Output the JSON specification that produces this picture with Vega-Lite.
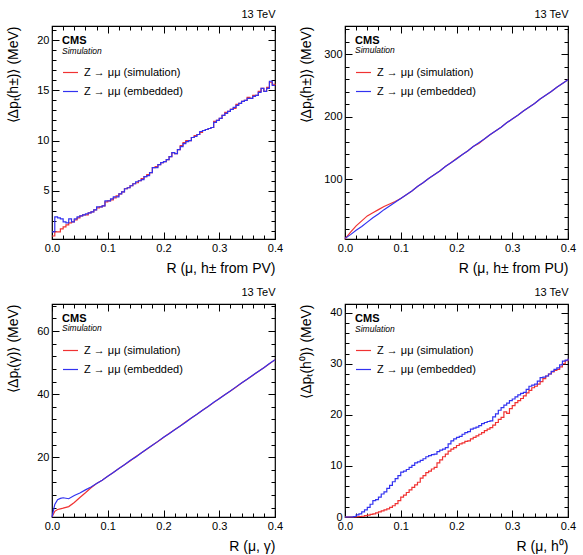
{
  "$schema": "https://vega.github.io/schema/vega-lite/v6.json",
  "padding": {"left": 5, "top": 7, "right": 5, "bottom": 4},
  "background": "white",
  "config": {
    "font": "Liberation Sans",
    "view": {"stroke": "black", "strokeWidth": 1.2},
    "axis": {"domain": false, "grid": false, "tickColor": "black", "tickWidth": 1, "labelColor": "black", "titleColor": "black", "labelFontSize": 11, "titleFontSize": 14, "titleFontWeight": "normal", "labelFont": "Liberation Sans", "titleFont": "Liberation Sans", "labelFlush": false, "labelOverlap": false},
    "legend": {"orient": "none", "legendX": 10, "legendY": 38, "title": null, "symbolType": "stroke", "symbolSize": 225, "symbolStrokeWidth": 1.2, "labelFontSize": 11, "labelOffset": 5, "rowPadding": 5, "padding": 0, "labelFont": "Liberation Sans", "labelColor": "black"},
    "text": {"font": "Liberation Sans", "color": "black", "align": "left", "baseline": "alphabetic"}
  },
  "datasets": {
    "p1": [
      {"x":0.000,"sim":0.5,"emb":0.9},{"x":0.005,"sim":0.9,"emb":2.4},{"x":0.010,"sim":0.9,"emb":2.3},{"x":0.015,"sim":1.2,"emb":2.2},
      {"x":0.020,"sim":1.4,"emb":1.9},{"x":0.025,"sim":1.6,"emb":1.8},{"x":0.030,"sim":1.8,"emb":2.2},{"x":0.035,"sim":1.9,"emb":1.9},
      {"x":0.040,"sim":2.1,"emb":2.2},{"x":0.045,"sim":2.3,"emb":2.4},{"x":0.050,"sim":2.5,"emb":2.5},{"x":0.055,"sim":2.6,"emb":2.6},
      {"x":0.060,"sim":2.6,"emb":2.7},{"x":0.065,"sim":2.8,"emb":2.8},{"x":0.070,"sim":2.9,"emb":2.9},{"x":0.075,"sim":3.1,"emb":3.1},
      {"x":0.080,"sim":3.3,"emb":3.4},{"x":0.085,"sim":3.4,"emb":3.4},{"x":0.090,"sim":3.5,"emb":3.5},{"x":0.095,"sim":3.9,"emb":4.0},
      {"x":0.100,"sim":4.0,"emb":4.0},{"x":0.105,"sim":4.1,"emb":4.2},{"x":0.110,"sim":4.3,"emb":4.4},{"x":0.115,"sim":4.5,"emb":4.4},
      {"x":0.120,"sim":4.7,"emb":4.7},{"x":0.125,"sim":4.9,"emb":4.9},{"x":0.130,"sim":5.2,"emb":5.2},{"x":0.135,"sim":5.3,"emb":5.3},
      {"x":0.140,"sim":5.5,"emb":5.5},{"x":0.145,"sim":5.7,"emb":5.7},{"x":0.150,"sim":5.8,"emb":5.9},{"x":0.155,"sim":6.0,"emb":6.0},
      {"x":0.160,"sim":6.2,"emb":6.1},{"x":0.165,"sim":6.4,"emb":6.4},{"x":0.170,"sim":6.6,"emb":6.5},{"x":0.175,"sim":6.8,"emb":6.8},
      {"x":0.180,"sim":7.3,"emb":7.3},{"x":0.185,"sim":7.4,"emb":7.3},{"x":0.190,"sim":7.6,"emb":7.6},{"x":0.195,"sim":7.8,"emb":7.8},
      {"x":0.200,"sim":7.9,"emb":7.9},{"x":0.205,"sim":8.1,"emb":8.1},{"x":0.210,"sim":8.4,"emb":8.4},{"x":0.215,"sim":8.8,"emb":8.8},
      {"x":0.220,"sim":8.7,"emb":8.7},{"x":0.225,"sim":9.1,"emb":9.1},{"x":0.230,"sim":9.5,"emb":9.4},{"x":0.235,"sim":9.8,"emb":9.7},
      {"x":0.240,"sim":10.0,"emb":9.9},{"x":0.245,"sim":10.0,"emb":10.0},{"x":0.250,"sim":10.3,"emb":10.3},{"x":0.255,"sim":10.5,"emb":10.4},
      {"x":0.260,"sim":10.6,"emb":10.6},{"x":0.265,"sim":10.8,"emb":10.9},{"x":0.270,"sim":11.0,"emb":11.0},{"x":0.275,"sim":11.1,"emb":11.1},
      {"x":0.280,"sim":11.2,"emb":11.2},{"x":0.285,"sim":11.3,"emb":11.3},{"x":0.290,"sim":11.9,"emb":11.8},{"x":0.295,"sim":12.0,"emb":12.0},
      {"x":0.300,"sim":12.2,"emb":12.2},{"x":0.305,"sim":12.5,"emb":12.5},{"x":0.310,"sim":12.8,"emb":12.7},{"x":0.315,"sim":12.9,"emb":12.9},
      {"x":0.320,"sim":13.1,"emb":13.1},{"x":0.325,"sim":13.2,"emb":13.3},{"x":0.330,"sim":13.6,"emb":13.5},{"x":0.335,"sim":13.7,"emb":13.7},
      {"x":0.340,"sim":13.9,"emb":13.9},{"x":0.345,"sim":14.0,"emb":14.0},{"x":0.350,"sim":14.3,"emb":14.2},{"x":0.355,"sim":14.2,"emb":14.2},
      {"x":0.360,"sim":14.5,"emb":14.4},{"x":0.365,"sim":14.5,"emb":14.5},{"x":0.370,"sim":14.9,"emb":14.8},{"x":0.375,"sim":15.2,"emb":15.2},
      {"x":0.380,"sim":14.9,"emb":14.9},{"x":0.385,"sim":15.3,"emb":15.2},{"x":0.390,"sim":15.8,"emb":15.9},{"x":0.395,"sim":15.6,"emb":15.5},
      {"x":0.400,"sim":15.5,"emb":15.5}
    ],
    "p2": [
      {"x":0.00,"sim":4,"emb":5},{"x":0.01,"sim":15,"emb":11},{"x":0.02,"sim":25,"emb":18},{"x":0.03,"sim":33,"emb":24},
      {"x":0.04,"sim":41,"emb":31},{"x":0.05,"sim":46,"emb":38},{"x":0.06,"sim":51,"emb":44},{"x":0.07,"sim":56,"emb":51},
      {"x":0.08,"sim":60,"emb":57},{"x":0.09,"sim":64,"emb":63},{"x":0.10,"sim":69,"emb":69},{"x":0.11,"sim":75,"emb":75},
      {"x":0.12,"sim":81,"emb":81},{"x":0.13,"sim":88,"emb":88},{"x":0.14,"sim":94,"emb":94},{"x":0.15,"sim":101,"emb":101},
      {"x":0.16,"sim":107,"emb":107},{"x":0.17,"sim":113,"emb":113},{"x":0.18,"sim":120,"emb":120},{"x":0.19,"sim":126,"emb":126},
      {"x":0.20,"sim":133,"emb":132},{"x":0.21,"sim":139,"emb":139},{"x":0.22,"sim":145,"emb":145},{"x":0.23,"sim":152,"emb":152},
      {"x":0.24,"sim":157,"emb":158},{"x":0.25,"sim":164,"emb":164},{"x":0.26,"sim":171,"emb":171},{"x":0.27,"sim":177,"emb":177},
      {"x":0.28,"sim":183,"emb":183},{"x":0.29,"sim":190,"emb":190},{"x":0.30,"sim":196,"emb":196},{"x":0.31,"sim":202,"emb":202},
      {"x":0.32,"sim":209,"emb":209},{"x":0.33,"sim":215,"emb":215},{"x":0.34,"sim":221,"emb":221},{"x":0.35,"sim":228,"emb":228},
      {"x":0.36,"sim":234,"emb":234},{"x":0.37,"sim":240,"emb":240},{"x":0.38,"sim":247,"emb":247},{"x":0.39,"sim":253,"emb":253},
      {"x":0.40,"sim":259,"emb":259}
    ],
    "p3": [
      {"x":0.000,"sim":1.0,"emb":1.0},{"x":0.005,"sim":2.8,"emb":5.0},{"x":0.010,"sim":3.4,"emb":6.5},{"x":0.015,"sim":3.6,"emb":6.9},
      {"x":0.020,"sim":3.8,"emb":7.1},{"x":0.030,"sim":4.3,"emb":6.8},{"x":0.040,"sim":5.6,"emb":7.8},{"x":0.050,"sim":7.2,"emb":8.6},
      {"x":0.060,"sim":8.7,"emb":9.6},{"x":0.070,"sim":10.3,"emb":10.5},{"x":0.080,"sim":11.6,"emb":11.6},{"x":0.090,"sim":12.7,"emb":12.7},
      {"x":0.10,"sim":13.9,"emb":13.9},{"x":0.11,"sim":15.1,"emb":15.1},{"x":0.12,"sim":16.4,"emb":16.4},{"x":0.13,"sim":17.6,"emb":17.6},
      {"x":0.14,"sim":18.8,"emb":18.9},{"x":0.15,"sim":20.1,"emb":20.0},{"x":0.16,"sim":21.3,"emb":21.3},{"x":0.17,"sim":22.5,"emb":22.6},
      {"x":0.18,"sim":23.8,"emb":23.8},{"x":0.19,"sim":25.0,"emb":25.0},{"x":0.20,"sim":26.2,"emb":26.3},{"x":0.21,"sim":27.5,"emb":27.4},
      {"x":0.22,"sim":28.7,"emb":28.7},{"x":0.23,"sim":29.9,"emb":29.9},{"x":0.24,"sim":31.2,"emb":31.1},{"x":0.25,"sim":32.4,"emb":32.4},
      {"x":0.26,"sim":33.6,"emb":33.6},{"x":0.27,"sim":34.9,"emb":34.9},{"x":0.28,"sim":36.1,"emb":36.1},{"x":0.29,"sim":37.3,"emb":37.4},
      {"x":0.30,"sim":38.6,"emb":38.5},{"x":0.31,"sim":39.8,"emb":39.8},{"x":0.32,"sim":41.0,"emb":41.0},{"x":0.33,"sim":42.2,"emb":42.3},
      {"x":0.34,"sim":43.5,"emb":43.5},{"x":0.35,"sim":44.7,"emb":44.7},{"x":0.36,"sim":45.9,"emb":46.0},{"x":0.37,"sim":47.2,"emb":47.2},
      {"x":0.38,"sim":48.4,"emb":48.4},{"x":0.39,"sim":49.6,"emb":49.7},{"x":0.40,"sim":50.9,"emb":50.9}
    ],
    "p4": [
      {"x":0.000,"sim":0,"emb":0},{"x":0.005,"sim":0,"emb":0},{"x":0.010,"sim":0,"emb":0},{"x":0.015,"sim":0,"emb":0.1},
      {"x":0.020,"sim":0.05,"emb":0.4},{"x":0.025,"sim":0.1,"emb":0.6},{"x":0.030,"sim":0.15,"emb":1.0},{"x":0.035,"sim":0.25,"emb":1.4},
      {"x":0.040,"sim":0.35,"emb":1.9},{"x":0.045,"sim":0.5,"emb":2.5},{"x":0.050,"sim":0.6,"emb":3.2},{"x":0.055,"sim":0.8,"emb":3.4},
      {"x":0.060,"sim":1.0,"emb":3.9},{"x":0.065,"sim":1.2,"emb":4.5},{"x":0.070,"sim":1.4,"emb":4.9},{"x":0.075,"sim":1.6,"emb":5.6},
      {"x":0.080,"sim":1.9,"emb":6.2},{"x":0.085,"sim":2.2,"emb":6.9},{"x":0.090,"sim":2.6,"emb":7.5},{"x":0.095,"sim":3.2,"emb":8.1},
      {"x":0.100,"sim":3.9,"emb":8.8},{"x":0.105,"sim":4.3,"emb":9.0},{"x":0.110,"sim":4.8,"emb":9.3},{"x":0.115,"sim":5.3,"emb":9.7},
      {"x":0.120,"sim":5.8,"emb":10.1},{"x":0.125,"sim":6.3,"emb":10.6},{"x":0.130,"sim":6.8,"emb":10.8},{"x":0.135,"sim":7.6,"emb":11.1},
      {"x":0.140,"sim":8.1,"emb":11.4},{"x":0.145,"sim":8.7,"emb":11.8},{"x":0.150,"sim":9.0,"emb":12.0},{"x":0.155,"sim":9.4,"emb":12.2},
      {"x":0.160,"sim":9.7,"emb":12.3},{"x":0.165,"sim":10.6,"emb":12.8},{"x":0.170,"sim":11.2,"emb":13.1},{"x":0.175,"sim":11.8,"emb":13.3},
      {"x":0.180,"sim":12.3,"emb":13.6},{"x":0.185,"sim":12.9,"emb":14.3},{"x":0.190,"sim":13.3,"emb":14.9},{"x":0.195,"sim":13.6,"emb":15.3},
      {"x":0.200,"sim":14.0,"emb":15.6},{"x":0.205,"sim":14.3,"emb":15.8},{"x":0.210,"sim":14.5,"emb":16.2},{"x":0.215,"sim":14.8,"emb":16.5},
      {"x":0.220,"sim":14.9,"emb":16.7},{"x":0.225,"sim":15.3,"emb":17.2},{"x":0.230,"sim":15.6,"emb":17.4},{"x":0.235,"sim":15.9,"emb":17.6},
      {"x":0.240,"sim":16.2,"emb":17.9},{"x":0.245,"sim":16.5,"emb":18.3},{"x":0.250,"sim":16.9,"emb":18.5},{"x":0.255,"sim":17.2,"emb":18.7},
      {"x":0.260,"sim":17.5,"emb":18.8},{"x":0.265,"sim":18.0,"emb":19.6},{"x":0.270,"sim":18.5,"emb":20.2},{"x":0.275,"sim":19.1,"emb":20.9},
      {"x":0.280,"sim":19.5,"emb":21.4},{"x":0.285,"sim":20.6,"emb":21.9},{"x":0.290,"sim":20.3,"emb":22.3},{"x":0.295,"sim":21.2,"emb":22.8},
      {"x":0.300,"sim":21.8,"emb":23.1},{"x":0.305,"sim":22.4,"emb":23.5},{"x":0.310,"sim":22.8,"emb":23.9},{"x":0.315,"sim":23.2,"emb":24.2},
      {"x":0.320,"sim":23.7,"emb":24.4},{"x":0.325,"sim":24.3,"emb":25.0},{"x":0.330,"sim":24.8,"emb":25.6},{"x":0.335,"sim":25.3,"emb":25.8},
      {"x":0.340,"sim":25.6,"emb":26.0},{"x":0.345,"sim":26.0,"emb":26.6},{"x":0.350,"sim":26.5,"emb":27.3},{"x":0.355,"sim":27.1,"emb":27.4},
      {"x":0.360,"sim":27.6,"emb":27.6},{"x":0.365,"sim":28.0,"emb":28.0},{"x":0.370,"sim":28.4,"emb":28.5},{"x":0.375,"sim":28.7,"emb":28.9},
      {"x":0.380,"sim":28.9,"emb":29.2},{"x":0.385,"sim":29.4,"emb":29.8},{"x":0.390,"sim":30.0,"emb":30.5},{"x":0.395,"sim":30.6,"emb":30.7},
      {"x":0.400,"sim":31.0,"emb":31.0}
    ]
  },
  "columns": 2,
  "spacing": {"row": 65, "column": 70},
  "bounds": "flush",
  "resolve": {"scale": {"color": "independent"}, "legend": {"color": "independent"}},
  "concat": [
    {
      "width": 223, "height": 213,
      "data": {"name": "p1"},
      "layer": [
        {"mark": {"type": "line", "interpolate": "step-after", "strokeWidth": 1.2},
         "encoding": {
           "x": {"field": "x", "type": "quantitative", "scale": {"domain": [0, 0.4], "nice": false, "zero": false},
                 "axis": {"orient": "bottom", "values": [0, 0.1, 0.2, 0.3, 0.4], "format": ".1f", "tickSize": -7, "labelPadding": 10, "title": "R (μ, h± from PV)", "titleAnchor": "end", "titlePadding": 8}},
           "y": {"field": "sim", "type": "quantitative", "scale": {"domain": [0.2, 21.4], "nice": false, "zero": false},
                 "axis": {"orient": "left", "values": [5, 10, 15, 20], "tickSize": -7, "labelPadding": 10, "title": "⟨Δpₜ(h±)⟩ (MeV)", "titleAnchor": "end", "titleX": -32}},
           "color": {"datum": "Z → μμ (simulation)", "type": "nominal", "scale": {"domain": ["Z → μμ (simulation)", "Z → μμ (embedded)"], "range": ["#f03232", "#3232f0"]}}
         }},
        {"mark": {"type": "line", "interpolate": "step-after", "strokeWidth": 1.2},
         "encoding": {
           "x": {"field": "x", "type": "quantitative", "axis": {"orient": "top", "values": [0, 0.1, 0.2, 0.3, 0.4], "tickSize": -7, "labels": false, "title": "13 TeV", "titleFontSize": 11, "titleAnchor": "end", "titlePadding": 6}},
           "y": {"field": "emb", "type": "quantitative", "axis": {"orient": "right", "values": [5, 10, 15, 20], "tickSize": -7, "labels": false, "title": null}},
           "color": {"datum": "Z → μμ (embedded)", "type": "nominal"}
         }},
        {"data": {"values": [{"t": "CMS"}]},
         "mark": {"type": "text", "fontWeight": "bold", "fontSize": 11},
         "encoding": {
           "x": {"datum": 0.018, "type": "quantitative", "axis": {"orient": "bottom", "values": [0.02,0.04,0.06,0.08,0.12,0.14,0.16,0.18,0.22,0.24,0.26,0.28,0.32,0.34,0.36,0.38], "tickSize": -4, "labels": false, "title": null}},
           "y": {"datum": 19.6, "type": "quantitative", "axis": {"orient": "left", "values": [1,2,3,4,6,7,8,9,11,12,13,14,16,17,18,19,21], "tickSize": -4, "labels": false, "title": null}},
           "text": {"field": "t"}
         }},
        {"data": {"values": [{"t": "Simulation"}]},
         "mark": {"type": "text", "fontStyle": "italic", "fontSize": 8.5},
         "encoding": {
           "x": {"datum": 0.018, "type": "quantitative", "axis": {"orient": "top", "values": [0.02,0.04,0.06,0.08,0.12,0.14,0.16,0.18,0.22,0.24,0.26,0.28,0.32,0.34,0.36,0.38], "tickSize": -4, "labels": false, "title": null}},
           "y": {"datum": 18.66, "type": "quantitative", "axis": {"orient": "right", "values": [1,2,3,4,6,7,8,9,11,12,13,14,16,17,18,19,21], "tickSize": -4, "labels": false, "title": null}},
           "text": {"field": "t"}
         }}
      ],
      "resolve": {"axis": {"x": "independent", "y": "independent"}}
    },
    {
      "width": 223, "height": 213,
      "data": {"name": "p2"},
      "layer": [
        {"mark": {"type": "line", "interpolate": "linear", "strokeWidth": 1.2},
         "encoding": {
           "x": {"field": "x", "type": "quantitative", "scale": {"domain": [0, 0.4], "nice": false, "zero": false},
                 "axis": {"orient": "bottom", "values": [0, 0.1, 0.2, 0.3, 0.4], "format": ".1f", "tickSize": -7, "labelPadding": 10, "title": "R (μ, h± from PU)", "titleAnchor": "end", "titlePadding": 8}},
           "y": {"field": "sim", "type": "quantitative", "scale": {"domain": [4, 345], "nice": false, "zero": false},
                 "axis": {"orient": "left", "values": [100, 200, 300], "tickSize": -7, "labelPadding": 10, "title": "⟨Δpₜ(h±)⟩ (MeV)", "titleAnchor": "end", "titleX": -32}},
           "color": {"datum": "Z → μμ (simulation)", "type": "nominal", "scale": {"domain": ["Z → μμ (simulation)", "Z → μμ (embedded)"], "range": ["#f03232", "#3232f0"]}}
         }},
        {"mark": {"type": "line", "interpolate": "linear", "strokeWidth": 1.2},
         "encoding": {
           "x": {"field": "x", "type": "quantitative", "axis": {"orient": "top", "values": [0, 0.1, 0.2, 0.3, 0.4], "tickSize": -7, "labels": false, "title": "13 TeV", "titleFontSize": 11, "titleAnchor": "end", "titlePadding": 6}},
           "y": {"field": "emb", "type": "quantitative", "axis": {"orient": "right", "values": [100, 200, 300], "tickSize": -7, "labels": false, "title": null}},
           "color": {"datum": "Z → μμ (embedded)", "type": "nominal"}
         }},
        {"data": {"values": [{"t": "CMS"}]},
         "mark": {"type": "text", "fontWeight": "bold", "fontSize": 11},
         "encoding": {
           "x": {"datum": 0.018, "type": "quantitative", "axis": {"orient": "bottom", "values": [0.02,0.04,0.06,0.08,0.12,0.14,0.16,0.18,0.22,0.24,0.26,0.28,0.32,0.34,0.36,0.38], "tickSize": -4, "labels": false, "title": null}},
           "y": {"datum": 316, "type": "quantitative", "axis": {"orient": "left", "values": [20,40,60,80,120,140,160,180,220,240,260,280,320,340], "tickSize": -4, "labels": false, "title": null}},
           "text": {"field": "t"}
         }},
        {"data": {"values": [{"t": "Simulation"}]},
         "mark": {"type": "text", "fontStyle": "italic", "fontSize": 8.5},
         "encoding": {
           "x": {"datum": 0.018, "type": "quantitative", "axis": {"orient": "top", "values": [0.02,0.04,0.06,0.08,0.12,0.14,0.16,0.18,0.22,0.24,0.26,0.28,0.32,0.34,0.36,0.38], "tickSize": -4, "labels": false, "title": null}},
           "y": {"datum": 301, "type": "quantitative", "axis": {"orient": "right", "values": [20,40,60,80,120,140,160,180,220,240,260,280,320,340], "tickSize": -4, "labels": false, "title": null}},
           "text": {"field": "t"}
         }}
      ],
      "resolve": {"axis": {"x": "independent", "y": "independent"}}
    },
    {
      "width": 223, "height": 213,
      "data": {"name": "p3"},
      "layer": [
        {"mark": {"type": "line", "interpolate": "linear", "strokeWidth": 1.2},
         "encoding": {
           "x": {"field": "x", "type": "quantitative", "scale": {"domain": [0, 0.4], "nice": false, "zero": false},
                 "axis": {"orient": "bottom", "values": [0, 0.1, 0.2, 0.3, 0.4], "format": ".1f", "tickSize": -7, "labelPadding": 10, "title": "R (μ, γ)", "titleAnchor": "end", "titlePadding": 8}},
           "y": {"field": "sim", "type": "quantitative", "scale": {"domain": [1, 68.6], "nice": false, "zero": false},
                 "axis": {"orient": "left", "values": [20, 40, 60], "tickSize": -7, "labelPadding": 10, "title": "⟨Δpₜ(γ)⟩ (MeV)", "titleAnchor": "end", "titleX": -32}},
           "color": {"datum": "Z → μμ (simulation)", "type": "nominal", "scale": {"domain": ["Z → μμ (simulation)", "Z → μμ (embedded)"], "range": ["#f03232", "#3232f0"]}}
         }},
        {"mark": {"type": "line", "interpolate": "linear", "strokeWidth": 1.2},
         "encoding": {
           "x": {"field": "x", "type": "quantitative", "axis": {"orient": "top", "values": [0, 0.1, 0.2, 0.3, 0.4], "tickSize": -7, "labels": false, "title": "13 TeV", "titleFontSize": 11, "titleAnchor": "end", "titlePadding": 6}},
           "y": {"field": "emb", "type": "quantitative", "axis": {"orient": "right", "values": [20, 40, 60], "tickSize": -7, "labels": false, "title": null}},
           "color": {"datum": "Z → μμ (embedded)", "type": "nominal"}
         }},
        {"data": {"values": [{"t": "CMS"}]},
         "mark": {"type": "text", "fontWeight": "bold", "fontSize": 11},
         "encoding": {
           "x": {"datum": 0.018, "type": "quantitative", "axis": {"orient": "bottom", "values": [0.02,0.04,0.06,0.08,0.12,0.14,0.16,0.18,0.22,0.24,0.26,0.28,0.32,0.34,0.36,0.38], "tickSize": -4, "labels": false, "title": null}},
           "y": {"datum": 62.9, "type": "quantitative", "axis": {"orient": "left", "values": [4,8,12,16,24,28,32,36,44,48,52,56,64,68], "tickSize": -4, "labels": false, "title": null}},
           "text": {"field": "t"}
         }},
        {"data": {"values": [{"t": "Simulation"}]},
         "mark": {"type": "text", "fontStyle": "italic", "fontSize": 8.5},
         "encoding": {
           "x": {"datum": 0.018, "type": "quantitative", "axis": {"orient": "top", "values": [0.02,0.04,0.06,0.08,0.12,0.14,0.16,0.18,0.22,0.24,0.26,0.28,0.32,0.34,0.36,0.38], "tickSize": -4, "labels": false, "title": null}},
           "y": {"datum": 59.9, "type": "quantitative", "axis": {"orient": "right", "values": [4,8,12,16,24,28,32,36,44,48,52,56,64,68], "tickSize": -4, "labels": false, "title": null}},
           "text": {"field": "t"}
         }}
      ],
      "resolve": {"axis": {"x": "independent", "y": "independent"}}
    },
    {
      "width": 223, "height": 213,
      "data": {"name": "p4"},
      "layer": [
        {"mark": {"type": "line", "interpolate": "step-after", "strokeWidth": 1.2},
         "encoding": {
           "x": {"field": "x", "type": "quantitative", "scale": {"domain": [0, 0.4], "nice": false, "zero": false},
                 "axis": {"orient": "bottom", "values": [0, 0.1, 0.2, 0.3, 0.4], "format": ".1f", "tickSize": -7, "labelPadding": 10, "title": "R (μ, h⁰)", "titleAnchor": "end", "titlePadding": 8}},
           "y": {"field": "sim", "type": "quantitative", "scale": {"domain": [0, 41.7], "nice": false, "zero": false},
                 "axis": {"orient": "left", "values": [0, 10, 20, 30, 40], "tickSize": -7, "labelPadding": 10, "title": "⟨Δpₜ(h⁰)⟩ (MeV)", "titleAnchor": "end", "titleX": -32}},
           "color": {"datum": "Z → μμ (simulation)", "type": "nominal", "scale": {"domain": ["Z → μμ (simulation)", "Z → μμ (embedded)"], "range": ["#f03232", "#3232f0"]}}
         }},
        {"mark": {"type": "line", "interpolate": "step-after", "strokeWidth": 1.2},
         "encoding": {
           "x": {"field": "x", "type": "quantitative", "axis": {"orient": "top", "values": [0, 0.1, 0.2, 0.3, 0.4], "tickSize": -7, "labels": false, "title": "13 TeV", "titleFontSize": 11, "titleAnchor": "end", "titlePadding": 6}},
           "y": {"field": "emb", "type": "quantitative", "axis": {"orient": "right", "values": [0, 10, 20, 30, 40], "tickSize": -7, "labels": false, "title": null}},
           "color": {"datum": "Z → μμ (embedded)", "type": "nominal"}
         }},
        {"data": {"values": [{"t": "CMS"}]},
         "mark": {"type": "text", "fontWeight": "bold", "fontSize": 11},
         "encoding": {
           "x": {"datum": 0.018, "type": "quantitative", "axis": {"orient": "bottom", "values": [0.02,0.04,0.06,0.08,0.12,0.14,0.16,0.18,0.22,0.24,0.26,0.28,0.32,0.34,0.36,0.38], "tickSize": -4, "labels": false, "title": null}},
           "y": {"datum": 38.2, "type": "quantitative", "axis": {"orient": "left", "values": [2,4,6,8,12,14,16,18,22,24,26,28,32,34,36,38], "tickSize": -4, "labels": false, "title": null}},
           "text": {"field": "t"}
         }},
        {"data": {"values": [{"t": "Simulation"}]},
         "mark": {"type": "text", "fontStyle": "italic", "fontSize": 8.5},
         "encoding": {
           "x": {"datum": 0.018, "type": "quantitative", "axis": {"orient": "top", "values": [0.02,0.04,0.06,0.08,0.12,0.14,0.16,0.18,0.22,0.24,0.26,0.28,0.32,0.34,0.36,0.38], "tickSize": -4, "labels": false, "title": null}},
           "y": {"datum": 36.3, "type": "quantitative", "axis": {"orient": "right", "values": [2,4,6,8,12,14,16,18,22,24,26,28,32,34,36,38], "tickSize": -4, "labels": false, "title": null}},
           "text": {"field": "t"}
         }}
      ],
      "resolve": {"axis": {"x": "independent", "y": "independent"}}
    }
  ]
}
